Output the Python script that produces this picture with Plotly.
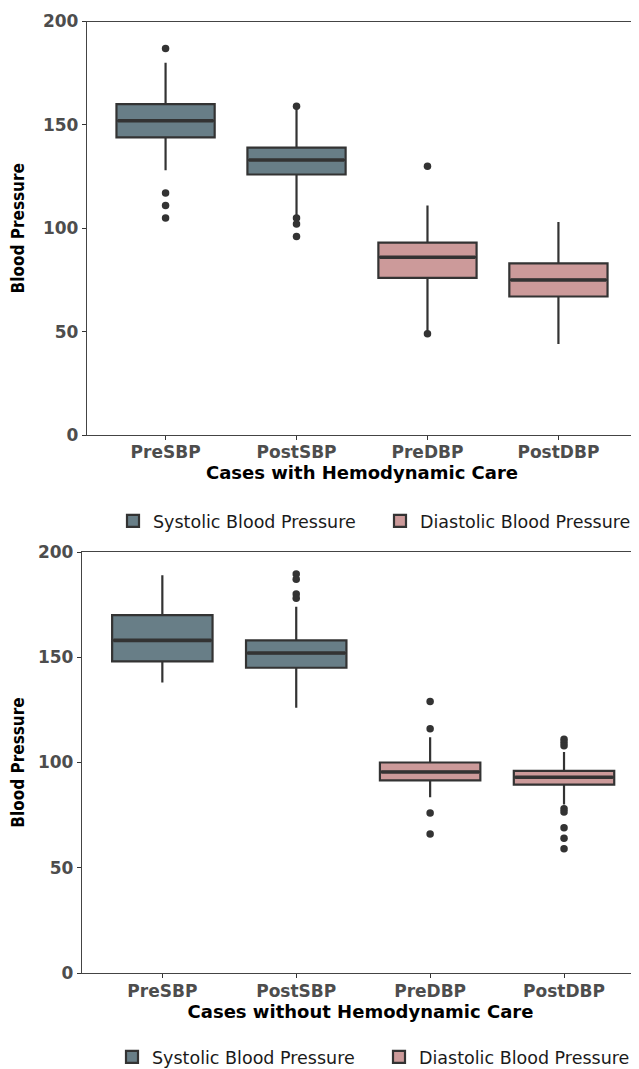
import plotly.graph_objects as go

# ---------------- data ----------------
categories = ["PreSBP", "PostSBP", "PreDBP", "PostDBP"]
series_names = ["Systolic Blood Pressure", "Diastolic Blood Pressure"]
y_ticks = [0, 50, 100, 150, 200]
panel_titles = ["Cases with Hemodynamic Care", "Cases without Hemodynamic Care"]

# Panel 1: cases with hemodynamic care
with_q1 = [144, 126, 76, 67]
with_median = [152, 133, 86, 75]
with_q3 = [160, 139, 93, 83]
with_lower = [128, 106, 50, 44]
with_upper = [180, 158, 111, 103]
with_outliers = {
    "PreSBP": [187, 117, 111, 105],
    "PostSBP": [159, 105, 102, 96],
    "PreDBP": [130, 49],
    "PostDBP": [],
}

# Panel 2: cases without hemodynamic care
without_q1 = [148, 145, 91.5, 89.5]
without_median = [158, 152, 95.5, 93]
without_q3 = [170, 158, 100, 96]
without_lower = [138, 126, 83.5, 80]
without_upper = [189, 174, 112, 105]
without_outliers = {
    "PreSBP": [],
    "PostSBP": [189.5, 187, 180, 178],
    "PreDBP": [129, 116, 76, 66],
    "PostDBP": [111, 109.5, 108, 78, 76.5, 69, 64, 59],
}

# ---------------- style ----------------
OFF = 8                      # page body margin of the html wrapper
W, H = 639 - OFF, 1069 - OFF
fills = ["#687E87", "#CC9A9A"]
line_col = "#333333"
FONT = "DejaVu Sans"
tick_font = dict(family=FONT, size=17, color="#4D4D4D", weight="bold")
title_font = dict(family=FONT, size=18, color="#000000", weight="bold")
ytitle_font = dict(family="Liberation Sans Narrow, DejaVu Sans Condensed, Arial Narrow, DejaVu Sans",
                   size=17, color="#000000", weight="bold")
legend_font = dict(family=FONT, size=17.5, color="#1A1A1A")


def px_x(p):
    return (p - OFF) / W


def px_y(p):
    return 1 - (p - OFF) / H


fig = go.Figure()

panels = [
    (with_q1, with_median, with_q3, with_lower, with_upper, with_outliers, "x", "y", "legend"),
    (without_q1, without_median, without_q3, without_lower, without_upper, without_outliers, "x2", "y2", "legend2"),
]

for (q1, med, q3, lo, up, outl, xa, ya, leg) in panels:
    groups = [[0, 1], [2, 3]]
    for s, idx in enumerate(groups):
        fig.add_trace(go.Box(
            x=[categories[i] for i in idx],
            q1=[q1[i] for i in idx],
            median=[med[i] for i in idx],
            q3=[q3[i] for i in idx],
            lowerfence=[lo[i] for i in idx],
            upperfence=[up[i] for i in idx],
            name=series_names[s],
            fillcolor=fills[s],
            line=dict(color=line_col, width=2.2),
            whiskerwidth=0,
            width=0.75,
            boxpoints=False,
            xaxis=xa, yaxis=ya,
            legend=leg,
            hoverinfo="skip",
        ))
    # thicker median bar (ggplot draws the median heavier than the box outline)
    fig.add_trace(go.Box(
        x=categories,
        q1=med, median=med, q3=med, lowerfence=med, upperfence=med,
        fillcolor="rgba(0,0,0,0)",
        line=dict(color=line_col, width=3.6),
        whiskerwidth=0, width=0.75 - 0.02, boxpoints=False,
        showlegend=False, xaxis=xa, yaxis=ya, hoverinfo="skip",
    ))
    ox, oy = [], []
    for c in categories:
        for v in outl[c]:
            ox.append(c)
            oy.append(v)
    fig.add_trace(go.Scatter(
        x=ox, y=oy, mode="markers",
        marker=dict(color=line_col, size=7.5),
        showlegend=False, xaxis=xa, yaxis=ya, hoverinfo="skip",
    ))

axis_common = dict(
    showline=True, linecolor="#444444", linewidth=1.3,
    ticks="outside", ticklen=4, tickwidth=1.2, tickcolor="#333333",
    showgrid=False, zeroline=False, tickfont=tick_font, automargin=False,
)

fig.update_layout(
    width=W, height=H,
    margin=dict(l=0, r=0, t=0, b=0, autoexpand=False),
    paper_bgcolor="white", plot_bgcolor="white",
    boxmode="overlay",
    xaxis=dict(axis_common, domain=[px_x(87), px_x(637)], anchor="y",
               type="category", categoryorder="array", categoryarray=categories,
               range=[-0.6, 3.6], mirror=True, ticklabelstandoff=-3,
               title=dict(text=panel_titles[0], font=title_font, standoff=0)),
    yaxis=dict(axis_common, domain=[px_y(435), px_y(21.5)], anchor="x", range=[0, 200],
               tickvals=y_ticks, mirror=True,
               title=dict(text="Blood Pressure", font=ytitle_font, standoff=15)),
    xaxis2=dict(axis_common, domain=[px_x(82), 1.0], anchor="y2",
                type="category", categoryorder="array", categoryarray=categories,
                range=[-0.6, 3.56], mirror=True, ticklabelstandoff=-2,
                title=dict(text=panel_titles[1], font=title_font, standoff=0)),
    yaxis2=dict(axis_common, domain=[px_y(973), px_y(552)], anchor="x2", range=[0, 200],
                tickvals=y_ticks,
                title=dict(text="Blood Pressure", font=ytitle_font, standoff=15)),
    legend=dict(orientation="h", x=(153 - OFF - 40) / W, y=px_y(521), xanchor="left", yanchor="middle",
                entrywidth=222, font=legend_font, bgcolor="rgba(0,0,0,0)"),
    legend2=dict(orientation="h", x=(152 - OFF - 40) / W, y=px_y(1057), xanchor="left", yanchor="middle",
                 entrywidth=222, font=legend_font, bgcolor="rgba(0,0,0,0)"),
)

fig.write_html("out.html")
